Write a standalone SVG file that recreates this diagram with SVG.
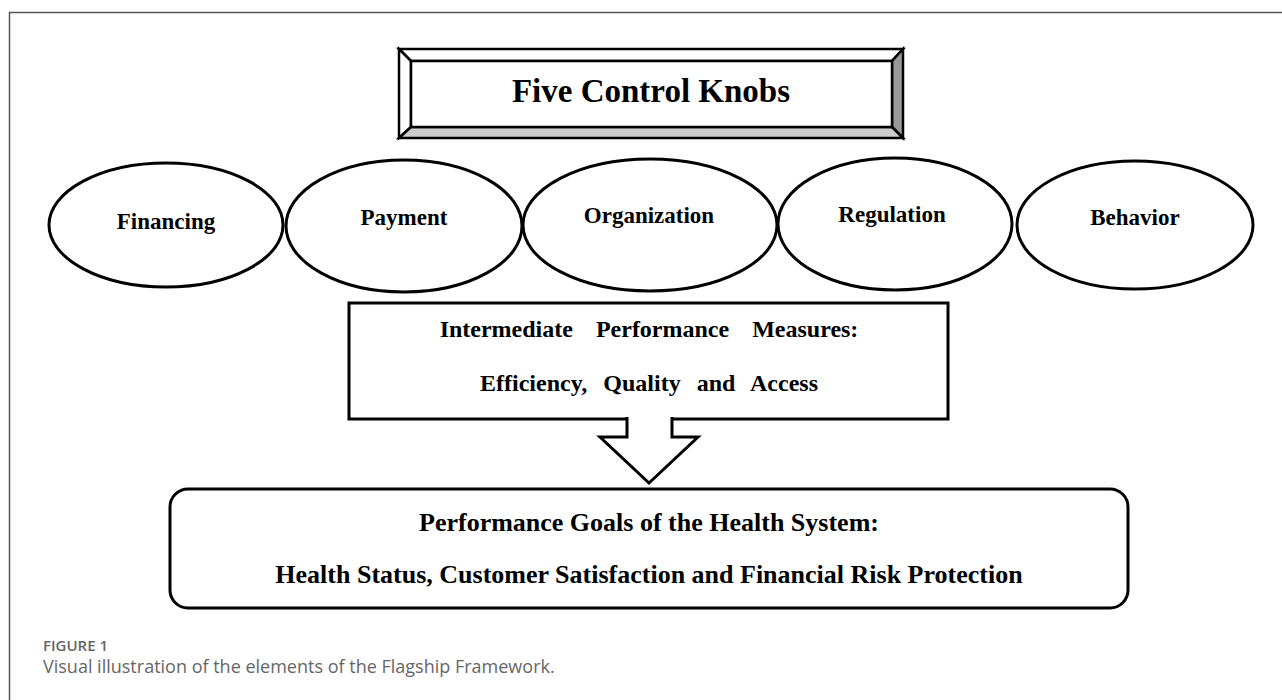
<svg xmlns="http://www.w3.org/2000/svg" width="1282" height="700" viewBox="0 0 1282 700">
  <style>
    .frame { fill: none; stroke: #555; stroke-width: 1.5; }
    .knob { fill: #fff; stroke: #000; stroke-width: 3; }
    .box { fill: #fff; stroke: #000; stroke-width: 3; }
    .bevel { stroke: #000; stroke-width: 2.5; stroke-linejoin: miter; }
    .lbl { font-family: "Liberation Serif", "Times New Roman", serif; font-weight: bold; fill: #000; text-anchor: middle; }
    .knobtxt { font-size: 23px; }
    .title { font-size: 33px; }
    .mid { font-size: 24px; word-spacing: 10px; }
    .mid-wide { word-spacing: 17px; }
    .goal { font-size: 26px; }
    .capnum { font-family: "Open Sans", "Liberation Sans", sans-serif; font-size: 15px; font-weight: 600; fill: #666; }
    .captxt { font-family: "Open Sans", "Liberation Sans", sans-serif; font-size: 18px; fill: #666; }
  </style>

  <rect width="1282" height="700" fill="#fff"/>

  <!-- page frame: top and left rules -->
  <path class="frame" d="M9.5,700 V12.5 H1282"/>

  <!-- bevelled title plate -->
  <g id="title">
    <polygon class="bevel" fill="#fff" points="399,49 903,49 892,61 411,61"/>
    <polygon class="bevel" fill="#fff" points="399,49 411,61 411,127 399,138"/>
    <polygon class="bevel" fill="#999" points="903,49 903,138 892,127 892,61"/>
    <polygon class="bevel" fill="#ccc" points="399,138 411,127 892,127 903,138"/>
    <rect class="bevel" fill="#fff" x="411" y="61" width="481" height="66"/>
    <text class="lbl title" x="651" y="102">Five Control Knobs</text>
  </g>

  <!-- the five knobs -->
  <g id="knob-financing">
    <ellipse class="knob" cx="166" cy="225" rx="117" ry="62"/>
    <text class="lbl knobtxt" x="166" y="229">Financing</text>
  </g>
  <g id="knob-payment">
    <ellipse class="knob" cx="404" cy="226" rx="118" ry="66"/>
    <text class="lbl knobtxt" x="404" y="225">Payment</text>
  </g>
  <g id="knob-organization">
    <ellipse class="knob" cx="650" cy="225" rx="127" ry="66"/>
    <text class="lbl knobtxt" x="649" y="223">Organization</text>
  </g>
  <g id="knob-regulation">
    <ellipse class="knob" cx="895" cy="224" rx="117" ry="66"/>
    <text class="lbl knobtxt" x="892" y="222">Regulation</text>
  </g>
  <g id="knob-behavior">
    <ellipse class="knob" cx="1135" cy="225" rx="118" ry="64"/>
    <text class="lbl knobtxt" x="1135" y="225">Behavior</text>
  </g>

  <!-- intermediate measures -->
  <g id="intermediate">
    <rect class="box" x="349" y="303" width="599" height="116"/>
    <text class="lbl mid mid-wide" x="649" y="337">Intermediate Performance Measures:</text>
    <text class="lbl mid" x="649" y="391">Efficiency, Quality and Access</text>
  </g>

  <!-- performance goals -->
  <g id="goals">
    <rect class="box" x="170" y="489" width="958" height="119" rx="18" ry="18"/>
    <text class="lbl goal" x="649" y="531">Performance Goals of the Health System:</text>
    <text class="lbl goal" x="649" y="583">Health Status, Customer Satisfaction and Financial Risk Protection</text>
  </g>

  <!-- block arrow from measures down to goals -->
  <g id="connectors">
    <path fill="#fff" stroke="#000" stroke-width="3" stroke-linejoin="miter"
          d="M627,417 V437 H600 L649,483 L698,437 H672 V417"/>
  </g>

  <!-- caption -->
  <text class="capnum" x="43" y="651">FIGURE 1</text>
  <text class="captxt" x="43" y="673">Visual illustration of the elements of the Flagship Framework.</text>
</svg>
